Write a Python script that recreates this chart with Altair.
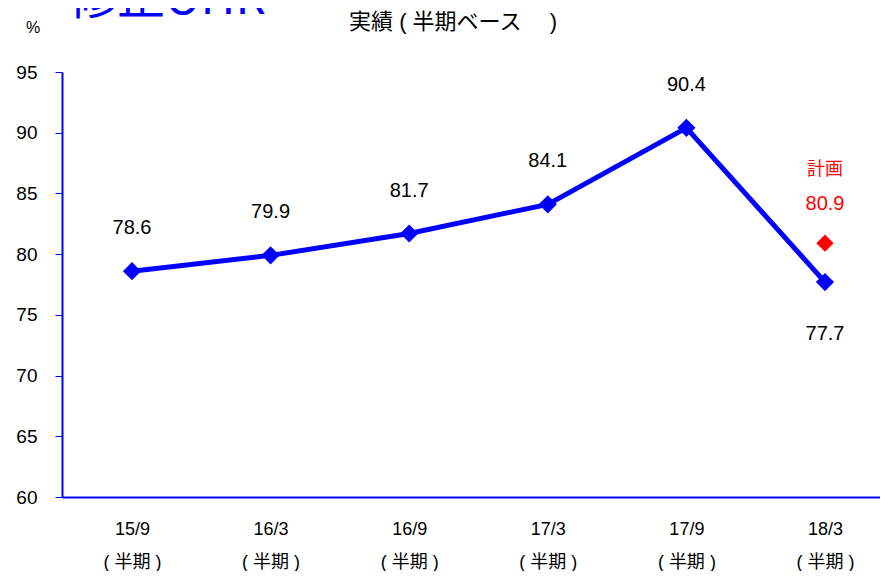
import altair as alt
import pandas as pd

periods = ["15/9", "16/3", "16/9", "17/3", "17/9", "18/3"]
sub_label = "( 半期 )"
actual = [78.6, 79.9, 81.7, 84.1, 90.4, 77.7]
label_below = [False, False, False, False, False, True]
plan_period = "18/3"
plan_value = 80.9

df = pd.DataFrame({
    "idx": list(range(len(periods))),
    "period": periods,
    "value": actual,
    "below": label_below,
    "label": [f"{v:.1f}" for v in actual],
})
plan_df = pd.DataFrame({"idx": [periods.index(plan_period)], "value": [plan_value],
                        "label": [f"{plan_value:.1f}"], "head": ["計画"]})

label_arr = "[" + ",".join(f"'{p}\\n{sub_label}'" for p in periods) + "]"

FONT = "Liberation Sans"
MIX = "Liberation Sans, 'Noto Sans CJK JP'"
CJK = "Noto Sans CJK JP"

x = alt.X("idx:Q", scale=alt.Scale(domain=[-0.505, 5.397], nice=False, zero=False),
          axis=alt.Axis(values=list(range(len(periods))), labelExpr=f"split({label_arr}[datum.value], '\\n')",
                        title=None, ticks=False, grid=False, domainColor="#0000FF", domainWidth=2,
                        labelFont=MIX, labelFontSize=18, labelColor="#000000", labelPadding=32,
                        labelLineHeight=33, labelBaseline="middle"))
y = alt.Y("value:Q", scale=alt.Scale(domain=[60, 95], nice=False, zero=False),
          axis=alt.Axis(values=[60, 65, 70, 75, 80, 85, 90, 95], title=None, grid=False,
                        domainColor="#0000FF", domainWidth=2, tickColor="#0000FF", tickSize=7,
                        labelFont=FONT, labelFontSize=19, labelColor="#000000", labelPadding=18))

base = alt.Chart(df)
line = base.mark_line(color="#0000FF", strokeWidth=5).encode(x=x, y=y)
pts = base.mark_point(shape="diamond", filled=True, color="#0000FF", size=330, opacity=1).encode(x=x, y=y)
labels_up = base.transform_filter("!datum.below").mark_text(
    font=FONT, fontSize=20, color="#000000", baseline="middle", dy=-43).encode(x=x, y=y, text="label:N")
labels_dn = base.transform_filter("datum.below").mark_text(
    font=FONT, fontSize=20, color="#000000", baseline="middle", dy=52).encode(x=x, y=y, text="label:N")

plan_pt = alt.Chart(plan_df).mark_point(shape="diamond", filled=True, color="#FF0000", size=300, opacity=1).encode(x=x, y=y)
plan_val = alt.Chart(plan_df).mark_text(font=FONT, fontSize=20, color="#FF0000", baseline="middle", dy=-39).encode(
    x=x, y=y, text="label:N")
plan_head = alt.Chart(plan_df).mark_text(font=CJK, fontSize=18, color="#FF0000", baseline="middle", dy=-73).encode(
    x=x, y=y, text="head:N")

pct = alt.Chart(pd.DataFrame({"t": ["%"]})).mark_text(font=FONT, fontSize=16, color="#000000", baseline="middle").encode(
    x=alt.value(-29), y=alt.value(-44), text="t:N")
title = alt.Chart(pd.DataFrame({"t": ["実績 ( 半期ベース　 )"]})).mark_text(
    font=MIX, fontSize=22, color="#000000", baseline="middle").encode(
    x=alt.value(391), y=alt.value(-50), text="t:N")
big = alt.Chart(pd.DataFrame({"t": ["修正OHR"]})).mark_text(
    font=CJK, fontSize=48, color="#0000FF", baseline="alphabetic", align="left").encode(
    x=alt.value(7), y=alt.value(-58), text="t:N")

chart = alt.layer(line, pts, labels_up, labels_dn, plan_pt, plan_val, plan_head, pct, title, big).properties(
    width=818, height=425,
    autosize=alt.AutoSizeParams(type="none"),
    padding={"left": 54, "top": 64, "right": 0, "bottom": 74},
    background="#FFFFFF",
).configure_view(stroke=None)

chart.save("out.html", embed_options={"renderer": "svg", "actions": False})
